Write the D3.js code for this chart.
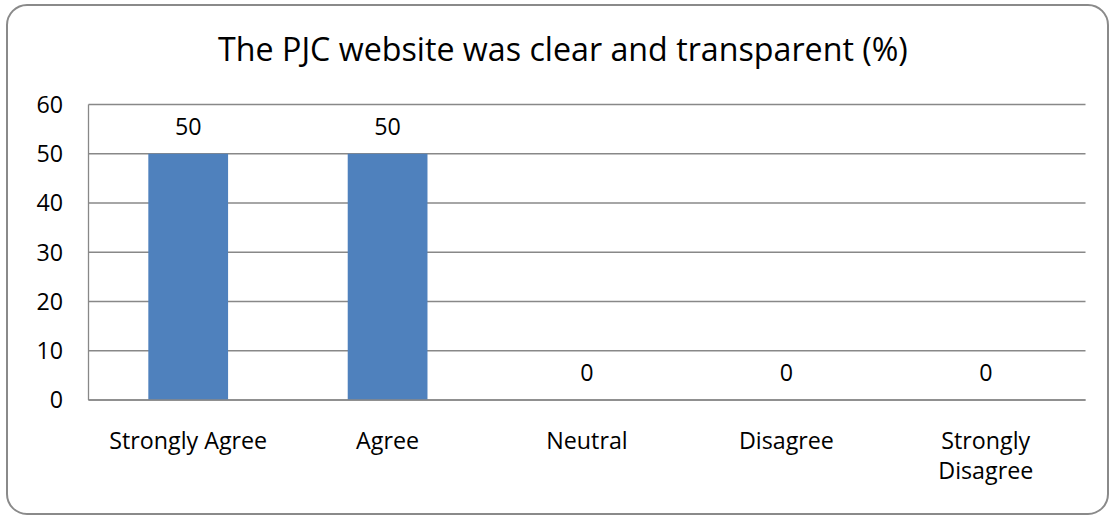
<!DOCTYPE html>
<html>
<head>
<meta charset="utf-8">
<script src="https://cdn.jsdelivr.net/npm/d3@7"></script>
<style>
  html, body { margin: 0; padding: 0; background: #ffffff; }
  svg { display: block; }
  text { font-family: "Open Sans", "Noto Sans", sans-serif; fill: #000; }
</style>
</head>
<body>
<svg id="chart" width="1110" height="515"></svg>
<script>
// ---- data ----
const title = "The PJC website was clear and transparent (%)";
const categories = ["Strongly Agree", "Agree", "Neutral", "Disagree", "Strongly Disagree"];
const values = [50, 50, 0, 0, 0];
const yTicks = [0, 10, 20, 30, 40, 50, 60];

// ---- layout ----
const plot = { left: 88.5, right: 1085.5, top: 104.5, bottom: 400 };

const svg = d3.select("#chart");

// outer rounded border
svg.append("rect")
  .attr("x", 7).attr("y", 5)
  .attr("width", 1101).attr("height", 509)
  .attr("rx", 20).attr("ry", 20)
  .attr("fill", "#fff")
  .attr("stroke", "#8a8a8a")
  .attr("stroke-width", 2);

const x = d3.scaleBand()
  .domain(categories)
  .range([plot.left, plot.right])
  .paddingInner(0.6)
  .paddingOuter(0.3);

const y = d3.scaleLinear()
  .domain([0, 60])
  .range([plot.bottom, plot.top]);

// gridlines
svg.append("g")
  .selectAll("line")
  .data(yTicks)
  .join("line")
  .attr("x1", plot.left).attr("x2", plot.right)
  .attr("y1", d => y(d)).attr("y2", d => y(d))
  .attr("stroke", "#888888")
  .attr("stroke-width", 1.3);

// left axis line
svg.append("line")
  .attr("x1", plot.left).attr("x2", plot.left)
  .attr("y1", y(60)).attr("y2", y(0))
  .attr("stroke", "#888888").attr("stroke-width", 1.3);

// bars
svg.append("g")
  .selectAll("rect")
  .data(values)
  .join("rect")
  .attr("x", (d, i) => x(categories[i]))
  .attr("width", x.bandwidth())
  .attr("y", d => y(d))
  .attr("height", d => y(0) - y(d))
  .attr("fill", "#4F81BD");

// bottom axis line on top
svg.append("line")
  .attr("x1", plot.left).attr("x2", plot.right)
  .attr("y1", y(0)).attr("y2", y(0))
  .attr("stroke", "#888888").attr("stroke-width", 1.3);

// font sizing: measure a reference string and scale to target width
function fitSize(str, targetWidth, base) {
  const t = svg.append("text").attr("font-size", base).text(str);
  const w = t.node().getComputedTextLength();
  t.remove();
  return base * targetWidth / w;
}
const labelSize = fitSize("Strongly Agree", 158, 22);
const titleSize = fitSize(title, 690, 30);

// title
svg.append("text")
  .attr("x", 563).attr("y", 61)
  .attr("text-anchor", "middle")
  .attr("font-size", titleSize)
  .text(title);

// y tick labels
svg.append("g")
  .selectAll("text")
  .data(yTicks)
  .join("text")
  .attr("x", 63)
  .attr("y", d => y(d) + labelSize * 0.36)
  .attr("text-anchor", "end")
  .attr("font-size", labelSize)
  .text(d => d);

// data labels
svg.append("g")
  .selectAll("text")
  .data(values)
  .join("text")
  .attr("x", (d, i) => x(categories[i]) + x.bandwidth() / 2)
  .attr("y", d => y(d) - 19)
  .attr("text-anchor", "middle")
  .attr("font-size", labelSize)
  .text(d => d);

// category labels (wrap "Strongly Disagree")
const catG = svg.append("g");
categories.forEach((c, i) => {
  const cx = x(c) + x.bandwidth() / 2;
  const lines = c === "Strongly Disagree" ? ["Strongly", "Disagree"] : [c];
  const t = catG.append("text")
    .attr("text-anchor", "middle")
    .attr("font-size", labelSize);
  lines.forEach((ln, k) => {
    t.append("tspan").attr("x", cx).attr("y", 449 + k * 30).text(ln);
  });
});
</script>
</body>
</html>
